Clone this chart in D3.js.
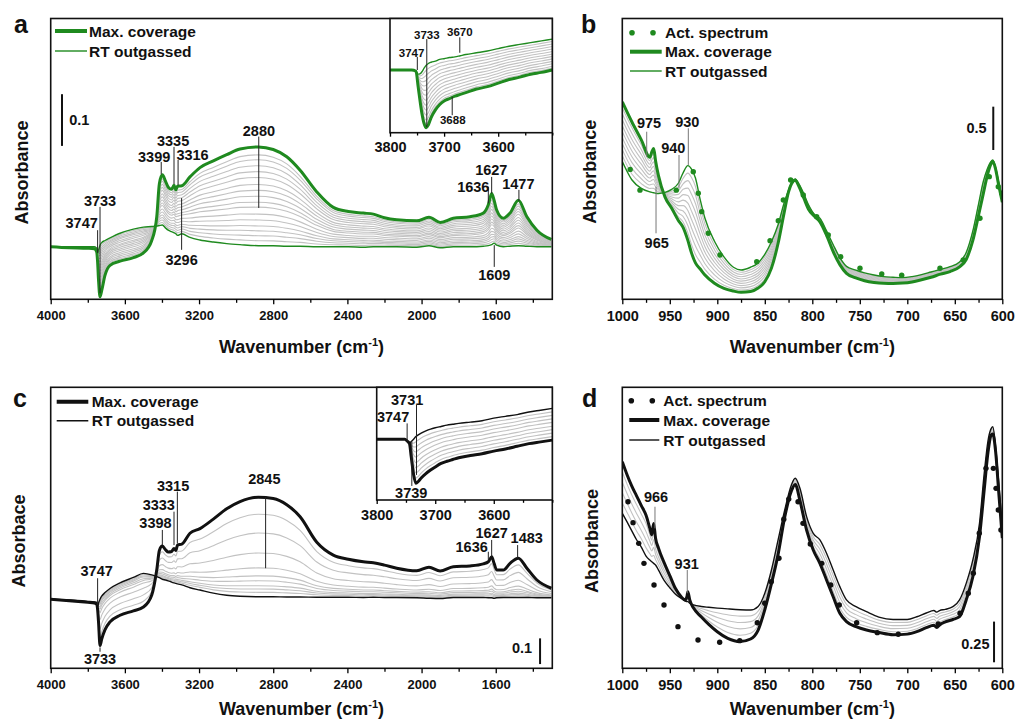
<!DOCTYPE html>
<html>
<head>
<meta charset="utf-8">
<script src="https://cdn.jsdelivr.net/npm/d3@7"></script>
<style>
body { margin: 0; background: #fff; }
svg text { font-family: "Liberation Sans", Arial, sans-serif; font-weight: bold; fill: #111; }
</style>
</head>
<body>
<script>
// ---------- panel a / c : 4000-1300 cm-1 (absorbance) ----------
var aWn = [4000,3900,3800,3765,3752,3747,3742,3734,3725,3707,3680,3626,3554,3500,3455,3428,3414,3398,3380,3366,3348,3335,3325,3316,3293,3249,3195,3123,3051,2979,2880,2800,2727,2655,2565,2476,2395,2314,2260,2200,2134,2026,1960,1900,1829,1739,1667,1640,1622,1609,1595,1559,1523,1478,1432,1378,1300];
var aMax = [0,-0.002,-0.003,-0.004,-0.010,-0.030,-0.065,-0.097,-0.085,-0.055,-0.036,-0.028,-0.021,-0.012,0.012,0.058,0.122,0.139,0.126,0.115,0.111,0.119,0.110,0.117,0.118,0.135,0.153,0.166,0.178,0.189,0.193,0.188,0.174,0.148,0.106,0.076,0.068,0.065,0.063,0.056,0.052,0.050,0.057,0.047,0.055,0.058,0.065,0.081,0.103,0.090,0.071,0.055,0.065,0.090,0.058,0.032,0.014];
var aRT = [0,0,0,0,-0.003,-0.013,-0.006,0.003,0.008,0.012,0.017,0.026,0.034,0.038,0.039,0.040,0.041,0.042,0.036,0.032,0.029,0.027,0.025,0.022,0.025,0.018,0.013,0.009,0.006,0.004,0.002,0.002,0.001,0.001,0,0,0,-0.001,0,0,0,-0.001,0.002,-0.002,0,0,0.001,0.002,0.004,0.007,0.003,0,0.001,0.002,0.001,0,0];
var aLevels = [0.05,0.10,0.15,0.20,0.26,0.32,0.39,0.44,0.50,0.56,0.62,0.69,0.75,0.81,0.87,0.92];

var cWn = [4000,3900,3800,3765,3752,3747,3742,3734,3725,3707,3680,3626,3554,3500,3455,3428,3414,3398,3380,3366,3348,3335,3325,3316,3293,3249,3195,3123,3051,2979,2880,2800,2727,2655,2565,2476,2395,2314,2260,2200,2134,2026,1960,1900,1829,1739,1667,1640,1622,1609,1595,1559,1523,1478,1432,1378,1300];
var cMax = [0,-0.006,-0.012,-0.014,-0.020,-0.040,-0.090,-0.180,-0.155,-0.118,-0.088,-0.062,-0.045,-0.030,0.017,0.115,0.190,0.207,0.192,0.184,0.186,0.198,0.190,0.212,0.215,0.257,0.275,0.312,0.352,0.380,0.397,0.392,0.368,0.321,0.222,0.172,0.156,0.146,0.142,0.133,0.121,0.111,0.125,0.110,0.127,0.130,0.138,0.146,0.166,0.140,0.114,0.114,0.140,0.160,0.121,0.075,0.043];
var cRT = [0,-0.003,-0.008,-0.010,-0.012,-0.030,-0.015,0,0.012,0.026,0.042,0.064,0.085,0.101,0.095,0.088,0.084,0.078,0.075,0.072,0.067,0.064,0.062,0.060,0.056,0.045,0.036,0.024,0.016,0.012,0.010,0.010,0.009,0.009,0.008,0.008,0.008,0.007,0.008,0.007,0.007,0.006,0.004,0.003,0.007,0.007,0.007,0.006,0.006,0.004,0.006,0.007,0.007,0.007,0.007,0.006,0.006];
var cLevels = [0.044,0.077,0.11,0.16,0.21,0.29,0.44,0.64,0.83];

// insets 3800-3500 cm-1
var insWn = [3800,3780,3760,3752,3748,3744,3741,3737,3733,3729,3724,3716,3708,3700,3690,3680,3670,3660,3640,3620,3600,3580,3560,3540,3520,3500];
var aInsMax = [0,0,0,-0.002,-0.028,-0.055,-0.073,-0.090,-0.097,-0.092,-0.080,-0.067,-0.058,-0.052,-0.048,-0.044,-0.041,-0.038,-0.032,-0.028,-0.022,-0.016,-0.012,-0.007,-0.004,0];
var aInsRT = [0,0,0,-0.002,-0.007,-0.006,-0.003,0.003,0.008,0.011,0.013,0.015,0.018,0.019,0.021,0.022,0.024,0.026,0.029,0.032,0.036,0.040,0.043,0.046,0.049,0.052];
var aInsLevels = [0.08,0.16,0.24,0.32,0.40,0.48,0.56,0.64,0.72,0.80,0.88,0.94];
var cInsMax = [0,0,0,0,-0.004,-0.010,-0.040,-0.080,-0.100,-0.096,-0.088,-0.078,-0.070,-0.063,-0.055,-0.050,-0.046,-0.042,-0.037,-0.033,-0.027,-0.022,-0.016,-0.010,-0.006,-0.002];
var cInsRT = [0,0,0,0,-0.004,-0.008,-0.005,0,0.006,0.010,0.014,0.019,0.023,0.026,0.029,0.032,0.034,0.036,0.039,0.042,0.048,0.052,0.056,0.062,0.066,0.070];
var cInsLevels = [0.11,0.22,0.33,0.44,0.56,0.67,0.78,0.89];

// ---------- panel b / d : 1000-600 cm-1 ----------
var bWn = [1000,990,980,971,969,967,965,962,955,948,941,936,931,927,923,918,913,903,893,883,875,865,857,850,843,836,830,825,821,818,814,809,804,797,792,785,778,771,764,755,745,735,725,715,705,695,685,675,665,655,645,638,631,625,620,616,612,610,607,604,600];
var bMax = [2.28,2.05,1.84,1.64,1.70,1.74,1.60,1.43,1.18,1.05,0.91,0.83,0.68,0.53,0.42,0.35,0.28,0.185,0.125,0.095,0.081,0.09,0.13,0.203,0.36,0.647,0.98,1.24,1.35,1.375,1.30,1.17,1.04,0.95,0.895,0.74,0.55,0.40,0.30,0.25,0.215,0.195,0.185,0.183,0.187,0.20,0.225,0.255,0.29,0.32,0.375,0.46,0.68,0.97,1.22,1.42,1.56,1.59,1.50,1.33,1.12];
var bRT = [1.59,1.38,1.28,1.24,1.235,1.23,1.225,1.222,1.235,1.27,1.34,1.46,1.543,1.50,1.40,1.15,0.935,0.67,0.49,0.37,0.338,0.37,0.42,0.52,0.665,0.86,1.10,1.26,1.36,1.39,1.33,1.22,1.09,0.97,0.935,0.79,0.63,0.48,0.38,0.34,0.305,0.28,0.262,0.255,0.25,0.262,0.285,0.315,0.345,0.377,0.43,0.54,0.79,1.10,1.36,1.50,1.59,1.608,1.52,1.36,1.13];
var bLevels = [0.1,0.2,0.3,0.4,0.5,0.6,0.7,0.8,0.9];
var bActWn = [991.7,981.4,943.2,925.3,920.0,916.4,909.5,897.2,858.5,844.5,835.8,830.5,822.8,809.5,795.4,783.2,770.1,749.8,726.9,705.9,665.6,641.1,623.5,613.7,604.2,600.6];
var bActA = [1.50,1.26,1.26,1.473,1.224,1.012,0.762,0.512,0.434,0.677,0.908,1.147,1.378,1.204,0.954,0.742,0.492,0.358,0.292,0.277,0.358,0.454,0.935,1.416,1.30,1.224];

var dWn = [1000,995,990,985,980,975,971,969,967,965,962,956,950,944,938,934,932,931,929,925,917,909,900,889,876,865,857,850,843,836,829,822,818,813,806,799,792,785,778,771,764,754,743,730,715,700,690,680,672,669,666,660,652,645,638,631,624,619,615,612,610,607,604,600];
var dMax = [1.27,1.19,1.12,1.06,1.00,0.94,0.86,0.82,0.89,0.80,0.74,0.65,0.57,0.49,0.44,0.42,0.44,0.47,0.42,0.37,0.317,0.27,0.225,0.184,0.164,0.18,0.235,0.36,0.52,0.70,0.93,1.09,1.13,1.03,0.85,0.727,0.645,0.543,0.44,0.338,0.287,0.256,0.235,0.22,0.206,0.21,0.225,0.25,0.265,0.25,0.266,0.285,0.30,0.317,0.42,0.563,0.808,1.10,1.33,1.43,1.44,1.33,1.10,0.80];
var dRT = [0.953,0.90,0.845,0.79,0.745,0.69,0.665,0.655,0.645,0.635,0.605,0.54,0.495,0.455,0.43,0.415,0.41,0.41,0.40,0.39,0.38,0.375,0.37,0.365,0.36,0.358,0.38,0.461,0.604,0.789,0.973,1.127,1.168,1.106,0.932,0.829,0.789,0.707,0.604,0.502,0.420,0.379,0.348,0.315,0.30,0.30,0.317,0.34,0.355,0.345,0.355,0.362,0.379,0.420,0.522,0.666,0.891,1.20,1.40,1.47,1.485,1.36,1.16,0.87];
var dLevels = [0.2,0.4,0.6,0.8];
var dActWn = [994.0,988.7,982.7,977.2,966.6,956.1,941.4,920.3,897.5,876.4,857.9,850.1,843.2,835.1,830.0,824.8,815.0,809.8,802.1,790.1,780.6,771.6,753.3,731.6,709.5,667.4,644.5,635.8,630.5,624.2,617.2,609.4,606.6,604.2,601.4];
var dActA = [1.024,0.895,0.768,0.645,0.512,0.389,0.256,0.174,0.160,0.170,0.280,0.400,0.532,0.676,0.916,1.040,1.024,0.891,0.764,0.645,0.512,0.389,0.280,0.219,0.209,0.272,0.338,0.461,0.584,0.830,1.229,1.229,1.106,0.973,0.850];

// tick values
var wideMajor = [4000,3600,3200,2800,2400,2000,1600];
var wideMinor = [3800,3400,3000,2600,2200,1800,1400];
var insMajor = [3800,3700,3600];
var insMinor = [3750,3650,3550,3500];
var lowMajor = [1000,950,900,850,800,750,700,650,600];
var lowMinor = [975,925,875,825,775,725,675,625];

// peak labels: text at (tx,ty), leader line at lx from ly1 to ly2 (data units)
var aNotes = [
  {t:"3747", tx:3833, ty:0.046, lx:3747, ly1:0.032, ly2:-0.012},
  {t:"3733", tx:3734, ty:0.089, lx:3734, ly1:0.077, ly2:-0.090},
  {t:"3399", tx:3442, ty:0.174, lx:3404, ly1:0.164, ly2:0.140},
  {t:"3335", tx:3340, ty:0.205, lx:3335, ly1:0.193, ly2:0.121},
  {t:"3316", tx:3235, ty:0.177, lx:3313, ly1:0.168, ly2:0.119},
  {t:"3296", tx:3294, ty:-0.026, lx:3294, ly1:0.094, ly2:-0.006},
  {t:"2880", tx:2877, ty:0.224, lx:2878, ly1:0.213, ly2:0.075},
  {t:"1636", tx:1721, ty:0.116, lx:1640, ly1:0.116, ly2:0.084},
  {t:"1627", tx:1624, ty:0.148, lx:1622, ly1:0.135, ly2:0.103},
  {t:"1477", tx:1478, ty:0.121, lx:1475, ly1:0.110, ly2:0.088},
  {t:"1609", tx:1608, ty:-0.055, lx:1608, ly1:0.003, ly2:-0.039}
];
var aInsNotes = [
  {t:"3747", tx:3760, ty:0.029, lx:3749.5, ly1:0.022, ly2:0.000},
  {t:"3733", tx:3732, ty:0.059, lx:3732, ly1:0.052, ly2:-0.096},
  {t:"3670", tx:3671, ty:0.064, lx:3671, ly1:0.055, ly2:0.029},
  {t:"3688", tx:3684, ty:-0.084, lx:3685, ly1:-0.045, ly2:-0.076}
];
var cNotes = [
  {t:"3747", tx:3752, ty:0.111, lx:3747, ly1:0.082, ly2:-0.022},
  {t:"3733", tx:3734, ty:-0.233, lx:3734, ly1:-0.187, ly2:-0.204},
  {t:"3398", tx:3435, ty:0.296, lx:3398, ly1:0.270, ly2:0.211},
  {t:"3333", tx:3417, ty:0.367, lx:3335, ly1:0.341, ly2:0.211},
  {t:"3315", tx:3340, ty:0.441, lx:3317, ly1:0.419, ly2:0.218},
  {t:"2845", tx:2848, ty:0.467, lx:2841, ly1:0.399, ly2:0.121},
  {t:"1636", tx:1730, ty:0.202, lx:1640, ly1:0.185, ly2:0.153},
  {t:"1627", tx:1622, ty:0.259, lx:1622, ly1:0.231, ly2:0.166},
  {t:"1483", tx:1433, ty:0.237, lx:1482, ly1:0.211, ly2:0.160}
];
var cInsNotes = [
  {t:"3747", tx:3772, ty:0.050, lx:3748, ly1:0.036, ly2:-0.005},
  {t:"3731", tx:3748, ty:0.089, lx:3732, ly1:0.078, ly2:-0.081},
  {t:"3739", tx:3741, ty:-0.123, lx:3740, ly1:-0.005, ly2:-0.106}
];
var bNotes = [
  {t:"975", tx:971.9, ty:2.032, lx:974.3, ly1:1.935, ly2:1.647},
  {t:"930", tx:931.6, ty:2.051, lx:930.5, ly1:1.975, ly2:1.551},
  {t:"940", tx:946.3, ty:1.744, lx:940.3, ly1:1.666, ly2:1.282},
  {t:"965", tx:963.8, ty:0.654, lx:964.5, ly1:1.300, ly2:0.762}
];
var dNotes = [
  {t:"966", tx:964.5, ty:1.051, lx:965.6, ly1:0.993, ly2:0.860},
  {t:"931", tx:932.2, ty:0.641, lx:931.6, ly1:0.604, ly2:0.461}
];

var GREEN = "#1f8a1f";
var GREY = "#c2c2c2";

var svg = d3.select("body").append("svg")
    .attr("width", 1015)
    .attr("height", 726);

function drawPlot(p) {
    var x = d3.scaleLinear().domain(p.xDomain).range([p.left, p.right]);
    var y = d3.scaleLinear().domain(p.yDomain).range([p.bottom, p.top]);
    var g = svg.append("g");

    svg.append("clipPath").attr("id", "clip-" + p.id)
        .append("rect")
        .attr("x", p.left).attr("y", p.top)
        .attr("width", p.right - p.left).attr("height", p.bottom - p.top);

    g.append("rect") // white back, so insets hide what is under them
        .attr("x", p.left).attr("y", p.top)
        .attr("width", p.right - p.left).attr("height", p.bottom - p.top)
        .attr("fill", "#fff");

    var plot = g.append("g").attr("clip-path", "url(#clip-" + p.id + ")");
    var line = d3.line()
        .x(function (d) { return x(d[0]); })
        .y(function (d) { return y(d[1]); })
        .curve(d3.curveMonotoneX);

    // intermediate spectra between RT outgassed and max coverage
    p.levels.forEach(function (f) {
        plot.append("path")
            .datum(p.wn.map(function (w, i) { return [w, p.rt[i] + f * (p.max[i] - p.rt[i])]; }))
            .attr("d", line)
            .attr("fill", "none")
            .attr("stroke", GREY)
            .attr("stroke-width", 1.1);
    });
    plot.append("path")
        .datum(p.wn.map(function (w, i) { return [w, p.rt[i]]; }))
        .attr("d", line).attr("fill", "none")
        .attr("stroke", p.color).attr("stroke-width", 1.4);
    plot.append("path")
        .datum(p.wn.map(function (w, i) { return [w, p.max[i]]; }))
        .attr("d", line).attr("fill", "none")
        .attr("stroke", p.color).attr("stroke-width", 3);

    if (p.actWn) {
        plot.selectAll("circle.act")
            .data(p.actWn.map(function (w, i) { return [w, p.actA[i]]; }))
            .enter().append("circle")
            .attr("class", "act")
            .attr("cx", function (d) { return x(d[0]); })
            .attr("cy", function (d) { return y(d[1]); })
            .attr("r", 2.7)
            .attr("fill", p.color);
    }

    // frame
    g.append("rect")
        .attr("x", p.left).attr("y", p.top)
        .attr("width", p.right - p.left).attr("height", p.bottom - p.top)
        .attr("fill", "none").attr("stroke", "#111").attr("stroke-width", 1.6);

    // x axis (major with labels, minor without)
    var major = g.append("g")
        .attr("transform", "translate(0," + p.bottom + ")")
        .call(d3.axisBottom(x).tickValues(p.major).tickSize(p.tickLen)
            .tickSizeOuter(0).tickPadding(p.pad).tickFormat(d3.format("d")));
    major.attr("font-size", p.tickFont).attr("font-family", null);
    major.select(".domain").remove();
    major.selectAll("line").attr("stroke-width", 1.3);
    if (p.hideLabels) {
        major.selectAll("text").filter(function (d) { return p.hideLabels.indexOf(d) >= 0; }).remove();
    }
    var minor = g.append("g")
        .attr("transform", "translate(0," + p.bottom + ")")
        .call(d3.axisBottom(x).tickValues(p.minor).tickSize(p.tickLen * 0.7)
            .tickSizeOuter(0).tickFormat(""));
    minor.select(".domain").remove();
    minor.selectAll("line").attr("stroke-width", 1.3);

    // peak labels
    (p.notes || []).forEach(function (n) {
        g.append("line")
            .attr("x1", x(n.lx)).attr("x2", x(n.lx))
            .attr("y1", y(n.ly1)).attr("y2", y(n.ly2))
            .attr("stroke", p.noteColor).attr("stroke-width", 1);
        g.append("text")
            .attr("x", x(n.tx)).attr("y", y(n.ty))
            .attr("text-anchor", "middle")
            .attr("dominant-baseline", "central")
            .style("font-size", p.noteFont + "px")
            .text(n.t);
    });

    // scale bar
    if (p.bar) {
        var b = p.bar;
        g.append("line")
            .attr("x1", x(b.wn)).attr("x2", x(b.wn))
            .attr("y1", y(b.v0)).attr("y2", y(b.v0 + b.len))
            .attr("stroke", "#111").attr("stroke-width", 2);
        g.append("text")
            .attr("x", x(b.tx)).attr("y", y(b.ty))
            .attr("text-anchor", b.anchor)
            .attr("dominant-baseline", "central")
            .style("font-size", "14.5px")
            .text(b.label);
    }
    return g;
}

function legend(items, x0, x1, tx, ys, color) {
    items.forEach(function (it, i) {
        var yy = ys[i];
        if (it === "dots") {
            [x0 + 2, x0 + 23].forEach(function (cx) {
                svg.append("circle").attr("cx", cx).attr("cy", yy).attr("r", 2.8).attr("fill", color);
            });
        } else {
            svg.append("line").attr("x1", x0).attr("x2", x1).attr("y1", yy).attr("y2", yy)
                .attr("stroke", color).attr("stroke-width", it === "bold" ? 4 : 1.4);
        }
    });
}
function legendText(labels, tx, ys) {
    labels.forEach(function (t, i) {
        svg.append("text").attr("x", tx).attr("y", ys[i])
            .attr("dominant-baseline", "central")
            .style("font-size", "15.5px")
            .text(t);
    });
}
function xTitle(cx, by) {
    var t = svg.append("text").attr("x", cx).attr("y", by)
        .attr("text-anchor", "middle").style("font-size", "18px");
    t.append("tspan").text("Wavenumber (cm");
    t.append("tspan").attr("dy", -7).style("font-size", "11px").text("-1");
    t.append("tspan").attr("dy", 7).text(")");
}
function yTitle(bx, cy, label) {
    svg.append("text")
        .attr("transform", "translate(" + bx + "," + cy + ") rotate(-90)")
        .attr("text-anchor", "middle").style("font-size", "18px")
        .text(label);
}
function letter(x, y, s) {
    svg.append("text").attr("x", x).attr("y", y).style("font-size", "25px").text(s);
}

// ---- panel a ----
drawPlot({id:"a", left:50.7, right:552.3, top:18.5, bottom:299.3,
    xDomain:[4000,1295], yDomain:[-0.1017,0.4414],
    wn:aWn, max:aMax, rt:aRT, levels:aLevels, color:GREEN,
    major:wideMajor, minor:wideMinor, tickLen:5, pad:6, tickFont:13,
    notes:aNotes, noteColor:"#222", noteFont:14.5,
    bar:{wn:3939, v0:0.195, len:0.1, label:"0.1", tx:3900, ty:0.245, anchor:"start"}});
drawPlot({id:"ai", left:390, right:552.3, top:18.5, bottom:132.7,
    xDomain:[3800,3500], yDomain:[-0.1054,0.0866],
    wn:insWn, max:aInsMax, rt:aInsRT, levels:aInsLevels, color:GREEN,
    major:insMajor, minor:insMinor, tickLen:4, pad:5, tickFont:14.5,
    notes:aInsNotes, noteColor:"#222", noteFont:11.5});
legend(["bold","thin"], 55, 87, 89, [31,51], GREEN);
legendText(["Max. coverage","RT outgassed"], 89, [31,51]);
xTitle(301.5, 353);
yTitle(28, 172.5, "Absorbance");
letter(14, 33, "a");

// ---- panel b ----
drawPlot({id:"b", left:622.3, right:1002.3, top:18.5, bottom:299.3,
    xDomain:[1000,600], yDomain:[0,3.242],
    wn:bWn, max:bMax, rt:bRT, levels:bLevels, color:GREEN,
    actWn:bActWn, actA:bActA,
    major:lowMajor, minor:lowMinor, tickLen:5, pad:6, tickFont:14.5,
    notes:bNotes, noteColor:"#777", noteFont:14.5,
    bar:{wn:609.5, v0:1.724, len:0.5, label:"0.5", tx:616.5, ty:1.975, anchor:"end"}});
legend(["dots","bold","thin"], 630, 661.7, 665, [32.7,51.7,71], GREEN);
legendText(["Act. spectrum","Max. coverage","RT outgassed"], 665, [32.7,51.7,71]);
xTitle(812.3, 353);
yTitle(596, 171.7, "Absorbance");
letter(581, 33, "b");

// ---- panel c ----
drawPlot({id:"c", left:50.7, right:552.3, top:387.3, bottom:668.3,
    xDomain:[4000,1295], yDomain:[-0.2685,0.8249],
    wn:cWn, max:cMax, rt:cRT, levels:cLevels, color:"#111",
    major:wideMajor, minor:wideMinor, tickLen:5, pad:6, tickFont:13,
    notes:cNotes, noteColor:"#222", noteFont:14.5,
    bar:{wn:1361, v0:-0.252, len:0.1, label:"0.1", tx:1404, ty:-0.191, anchor:"end"}});
drawPlot({id:"ci", left:376.7, right:552.3, top:387.3, bottom:500,
    xDomain:[3800,3500], yDomain:[-0.138,0.118],
    wn:insWn, max:cInsMax, rt:cInsRT, levels:cInsLevels, color:"#111",
    major:insMajor, minor:insMinor, tickLen:4, pad:6, tickFont:14.5,
    notes:cInsNotes, noteColor:"#222", noteFont:14.5});
legend(["bold","thin"], 56.7, 88.3, 91.7, [401.7,420.7], "#111");
legendText(["Max. coverage","RT outgassed"], 91.7, [401.7,420.7]);
xTitle(301.5, 715);
yTitle(25, 541, "Absorbace");
letter(13, 407, "c");

// ---- panel d ----
drawPlot({id:"d", left:622.3, right:1002.3, top:387.3, bottom:668.3,
    xDomain:[1000,600], yDomain:[0,1.727],
    wn:dWn, max:dMax, rt:dRT, levels:dLevels, color:"#111",
    actWn:dActWn, actA:dActA,
    major:lowMajor, minor:lowMinor, tickLen:5, pad:6, tickFont:14.5,
    notes:dNotes, noteColor:"#777", noteFont:14.5,
    bar:{wn:608.7, v0:0.037, len:0.25, label:"0.25", tx:613.5, ty:0.149, anchor:"end"}});
legend(["dots","bold","thin"], 629.3, 659.3, 663.3, [400.7,420,440], "#111");
legendText(["Act. spectrum","Max. coverage","RT outgassed"], 663.3, [400.7,420,440]);
xTitle(812.3, 715);
yTitle(598, 541, "Absorbance");
letter(582, 407, "d");
</script>
</body>
</html>
